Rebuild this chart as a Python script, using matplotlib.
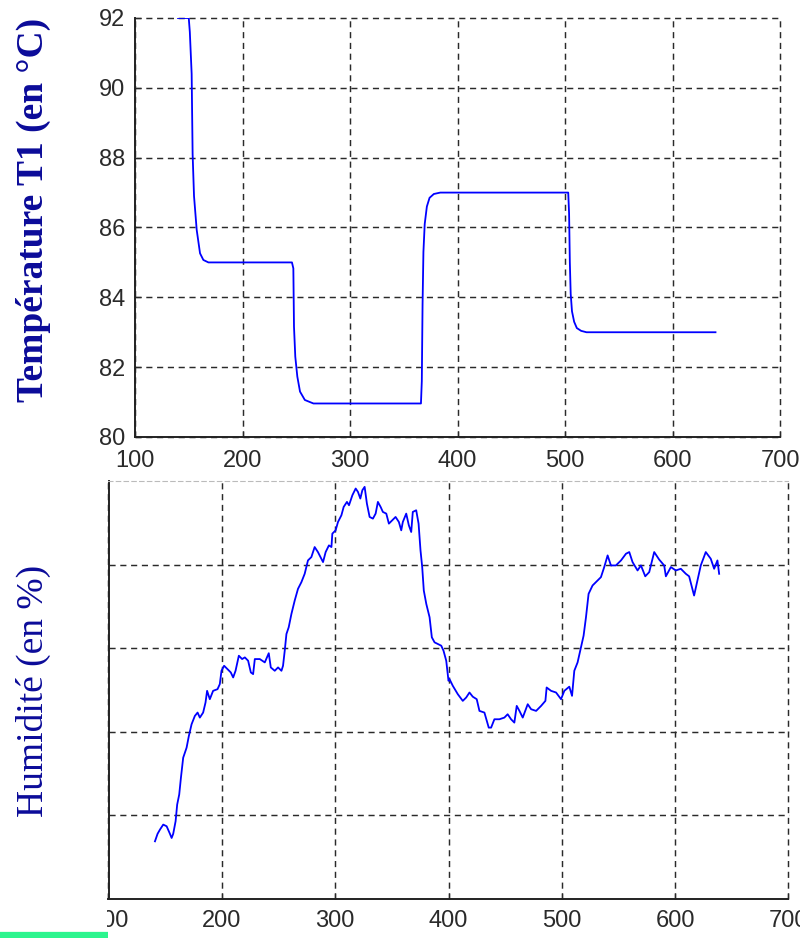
import matplotlib
matplotlib.use("Agg")
import matplotlib.pyplot as plt
from matplotlib.patches import Rectangle
from matplotlib.lines import Line2D

# temperature T1
t_temp = [140, 150, 151, 152.7, 153.6, 154.9, 157.4, 160.5, 163.6, 168.3,
          246, 247.3, 247.9, 249.1, 251, 253.5, 258, 266,
          366, 366.8, 367.5, 368.3, 369.5, 371.5, 374, 378, 384,
          503, 503.8, 504.5, 505.3, 506.5, 508.5, 511, 515, 520, 640]
temp = [92, 92, 91.6, 90.4, 88.1, 86.9, 85.93, 85.26, 85.07, 85.0,
        85.0, 84.83, 83.16, 82.3, 81.73, 81.3, 81.06, 80.96,
        80.96, 81.6, 83.8, 85.3, 86.1, 86.6, 86.85, 86.96, 87.0,
        87.0, 86.4, 85.0, 84.1, 83.6, 83.3, 83.12, 83.04, 83.0, 83.0]

# humidity (no scale printed on the original)
t_hum = [141.0, 143.3, 145.4, 148.3, 151.3, 154.2, 155.7, 157.1, 159.2, 160.6,
         162.4, 163.9, 165.9, 168.9, 170.9, 173.3, 176.2, 178.6, 180.6, 183.5,
         185.6, 187.0, 189.4, 192.3, 196.2, 198.2, 199.7, 202.0, 205.0, 207.9,
         210.0, 212.1, 215.0, 217.9, 220.3, 223.2, 225.6, 227.6, 229.1, 233.5,
         237.9, 241.4, 243.2, 246.7, 249.6, 252.6, 254.0, 255.5, 257.0, 259.0,
         261.4, 264.3, 267.2, 270.2, 273.1, 276.0, 279.0, 281.9, 284.8, 287.8,
         289.3, 291.6, 294.5, 296.7, 297.5, 300.4, 302.5, 305.5, 307.5, 310.4,
         312.2, 315.2, 318.1, 320.1, 322.2, 324.0, 326.0, 328.0, 330.4, 333.3,
         335.7, 337.7, 340.1, 342.1, 345.1, 347.4, 350.4, 353.3, 356.2, 358.3,
         359.7, 362.7, 365.0, 367.1, 368.5, 371.5, 373.6, 375.3, 376.8, 378.2,
         380.4, 383.3, 385.3, 387.7, 390.6, 393.6, 395.6, 398.0, 400.0, 400.9,
         403.8, 408.2, 412.6, 415.6, 418.5, 421.4, 424.9, 427.3, 431.7, 435.5,
         437.6, 440.5, 444.9, 449.3, 452.2, 455.2, 458.1, 460.2, 462.6, 465.5,
         469.9, 472.9, 477.3, 481.7, 485.5, 486.6, 490.5, 494.9, 499.3, 502.2,
         506.6, 509.0, 511.0, 513.9, 516.9, 519.2, 521.3, 523.6, 527.1, 531.5,
         534.5, 537.4, 540.4, 543.3, 547.7, 552.2, 556.6, 559.5, 562.4, 566.8,
         569.8, 573.6, 577.1, 581.5, 585.9, 590.3, 591.8, 596.2, 600.6, 605.0,
         609.4, 612.3, 616.7, 619.6, 622.6, 627.0, 631.4, 634.4, 637.3, 638.8]
hum = [26.9, 27.8, 28.3, 28.9, 28.7, 27.8, 27.3, 27.8, 29.3, 31.3,
       32.5, 34.5, 36.9, 38.1, 39.5, 40.9, 41.9, 42.3, 41.7, 42.3,
       43.5, 44.9, 43.9, 44.9, 45.1, 45.7, 47.3, 47.9, 47.5, 47.1,
       46.5, 47.3, 49.1, 48.7, 48.9, 48.5, 47.1, 46.9, 48.7, 48.7,
       48.3, 49.4, 47.7, 47.3, 47.7, 47.3, 47.9, 49.7, 51.7, 52.5,
       54.1, 55.7, 57.1, 57.9, 58.9, 60.5, 60.9, 62.1, 61.5, 60.7,
       60.3, 61.5, 62.3, 62.1, 63.7, 64.1, 65.1, 65.9, 66.9, 67.5,
       67.1, 68.3, 69.1, 68.7, 67.9, 68.9, 69.3, 67.3, 65.7, 65.5,
       66.1, 67.5, 66.9, 66.3, 66.1, 64.9, 65.3, 65.7, 65.1, 64.1,
       65.1, 66.1, 64.7, 63.9, 66.3, 66.5, 64.9, 61.7, 59.7, 56.9,
       55.3, 53.7, 51.3, 50.7, 50.5, 50.3, 49.7, 48.5, 46.1, 46.3,
       45.5, 44.5, 43.7, 44.1, 44.7, 44.2, 43.9, 42.5, 42.3, 40.5,
       40.5, 41.5, 41.5, 41.7, 42.1, 41.5, 41.1, 43.1, 42.5, 41.7,
       43.3, 42.7, 42.5, 43.1, 43.7, 45.3, 44.9, 44.7, 43.9, 44.9,
       45.4, 44.3, 47.3, 48.3, 50.1, 51.5, 53.7, 56.5, 57.5, 58.1,
       58.5, 59.7, 61.1, 59.9, 59.9, 60.5, 61.3, 61.5, 60.3, 59.3,
       59.9, 58.6, 59.1, 61.5, 60.6, 59.9, 58.6, 59.7, 59.3, 59.5,
       58.9, 58.6, 56.3, 58.1, 59.9, 61.5, 60.7, 59.5, 60.5, 58.9]

xticks = [100, 200, 300, 400, 500, 600, 700]
temp_ticks = [80, 82, 84, 86, 88, 90, 92]
hum_ticks = [30, 40, 50, 60]

W, H = 800, 938
fig = plt.figure(figsize=(8, 9.38), dpi=100)

tick_font = ['Liberation Sans', 'DejaVu Sans']
grid_kw = dict(color='#2a2a2a', linestyle=(0, (4.2, 3.2)), linewidth=1.05)
label_col = '#0b0b99'

def style_ticks(ax):
    for lab in ax.get_xticklabels() + ax.get_yticklabels():
        lab.set_fontfamily(tick_font)
        lab.set_fontsize(17)
        lab.set_color('#2a2a2a')
    ax.tick_params(direction='in', length=4, width=0.9, colors='#2a2a2a')
    # grid lines sitting on the axes limits should not be cut in half
    for gl in ax.xaxis.get_gridlines() + ax.yaxis.get_gridlines():
        gl.set_clip_on(False)

# ---- top panel
ax1 = fig.add_axes([135 / W, 1 - 437 / H, 645 / W, 419 / H])
ax1.plot(t_temp, temp, color='#0000ff', lw=1.3)
ax1.set_xlim(100, 700)
ax1.set_ylim(80, 92)
ax1.set_xticks(xticks)
ax1.set_yticks(temp_ticks)
ax1.grid(True, **grid_kw)
for s in ['top', 'right']:
    ax1.spines[s].set_visible(False)
for s in ['left', 'bottom']:
    ax1.spines[s].set_linewidth(1.4)
    ax1.spines[s].set_color('#222222')
style_ticks(ax1)
ax1.tick_params(axis='x', pad=9)
ax1.tick_params(axis='y', pad=7)

# ---- bottom panel
ax2 = fig.add_axes([108.5 / W, 1 - 899 / H, 680 / W, 418 / H])
ax2.plot(t_hum, hum, color='#0000ff', lw=1.3)
ax2.set_xlim(100, 700)
ax2.set_ylim(20, 70)
ax2.set_xticks(xticks)
ax2.set_yticks(hum_ticks)
ax2.set_yticklabels([])
ax2.grid(True, **grid_kw)
ax2.spines['right'].set_visible(False)
ax2.spines['top'].set_color('#bbbbbb')
ax2.spines['top'].set_linestyle((0, (4, 3)))
ax2.spines['top'].set_linewidth(0.8)
for s in ['left', 'bottom']:
    ax2.spines[s].set_linewidth(1.4)
    ax2.spines[s].set_color('#222222')
style_ticks(ax2)
ax2.tick_params(axis='x', pad=8)
ax2.tick_params(axis='y', length=0)

# the original picture is cut on the left of the lower panel
fig.patches.append(Rectangle((0, 0), 107 / W, 36 / H, transform=fig.transFigure,
                             facecolor='white', edgecolor='none', zorder=5))
fig.lines.append(Line2D([0, 108 / W], [1 - 934.5 / H, 1 - 934.5 / H],
                        transform=fig.transFigure, color='#2cf58e', lw=4.5,
                        solid_capstyle='butt', zorder=6))

fig.text(33 / W, 1 - 210 / H, 'Température T1 (en °C)', rotation=90,
         ha='center', va='center', fontsize=27, fontweight='bold',
         family=['Liberation Serif', 'DejaVu Serif'], color=label_col)
fig.text(33 / W, 1 - 691 / H, 'Humidité (en %)', rotation=90,
         ha='center', va='center', fontsize=27,
         family=['Liberation Serif', 'DejaVu Serif'], color=label_col)

fig.savefig('out.png', dpi=100)
